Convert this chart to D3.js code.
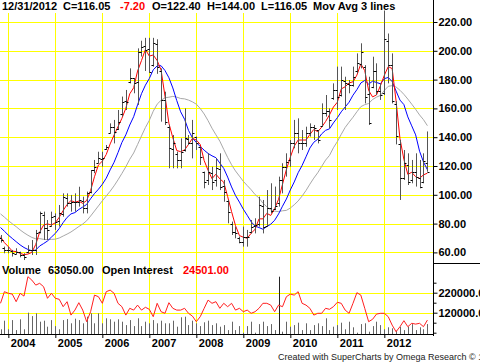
<!DOCTYPE html>
<html>
<head>
<meta charset="utf-8">
<script src="https://cdn.jsdelivr.net/npm/d3@7/dist/d3.min.js"></script>
<style>
body{margin:0;background:#fff;}
svg{display:block;font-family:"Liberation Sans",Arial,sans-serif;}
.lbl{font-size:11px;font-weight:bold;fill:#000;}
</style>
</head>
<body>
<svg id="chart" width="480" height="362"></svg>
<script>
// monthly bars, Nov 2003 .. Dec 2012 (index 0 = Nov 2003)
var years=[2004,2005,2006,2007,2008,2009,2010,2011,2012];
var firstJan=2; // index of Jan 2004

var opens=[70,63,62,61,59,60,58,60,62,62,74,86,77,78,85,82,87,98,94,95,95,96,91,102,117,122,125,132,143,147,
146,156,165,178,181,178,199,203,201,190,205,186,166,147,132,128,124,131,139,136,140,133,116,110,115,110,118,106,96,80,
74,70,67,71,74,78,80,92,78,91,90,94,110,119,124,136,143,136,136,143,147,145,148,157,158,167,173,169,179,177,
176,186,191,189,170,175,186,172,171,207,190,163,135,112,121,110,116,112,109,122.4];
var highs=[72.1,64,64,61.7,62.9,60.5,59.4,65,68.6,75.6,88.3,88.3,82.5,88.3,87.1,92.9,101,101,99.9,101,105.6,98.7,102.2,117.2,124.2,129.9,129.9,134.6,149.6,152,
158.9,168.2,172.8,187.8,181,201.7,207,209,209,209,208,187.8,171.6,148.5,141.5,130,139.2,160,141.5,152,140.4,133.4,116.1,128.8,119.5,125.3,128.8,110.3,96.4,81.4,
77.9,71,77.9,75.6,82.5,83.7,98.7,96.4,103.3,108,105.7,112.6,121.9,128.8,138,152,153.1,145,147.3,149.6,148.5,145,163.5,169.3,160,177.4,189,189,182,179.7,
189,198.2,205.2,190,182,195.9,191.3,177.4,228,212,198.2,165,138.1,131.1,128.8,124.2,128.8,124.2,128.8,144];
var lows=[66.8,59.4,59.4,57.1,58.6,56.6,54.7,59.4,58.2,58.2,73.2,68.6,68.6,77.9,75.6,77.9,84.8,91.8,88.3,88.3,91.8,87.1,87.1,101,115,121.9,119.5,131.1,142.7,135.7,
145,154.3,158.9,177.4,170.5,162.4,196,186,185,189,184,150.8,148.5,118.4,118.4,118.4,118.4,130,134.6,125.3,131.1,120.7,104.5,106.8,103.3,105.7,103.3,95.2,80.2,72.1,
69.8,66.3,64,64,73.2,73.2,77.9,73.2,77.9,87.1,89.4,91.8,101,112.6,119.5,132.3,128.8,131.1,133.4,140.4,138.1,135.7,147.3,154.3,146.2,165.9,158.9,168.2,158.9,170.5,
175.1,184.4,187.8,163.5,148.5,174,169.3,165.9,169.3,177.4,163.5,135,96.4,110.3,106.8,108,105.7,104.5,108,116.05];
var closes=[68.6,61.7,61.7,59.4,60.5,58.2,56.6,61.7,61.7,73.2,87.1,76.7,75.6,84.8,81.4,87.1,98.7,94.1,95.2,95.2,96.4,90.6,101,117.2,119.5,125.3,125.3,133.4,147.3,143.8,
150.8,164.7,164.7,180.9,177.4,199.4,202.9,200.6,185.5,205.2,189,165.8,150.8,132.3,135.7,124.2,130,139.2,135.7,142.7,135.7,126.5,109.1,115.5,109.1,118.4,105.7,102.2,88.3,74.4,
73.2,67.5,71,71,77.9,79.1,92.9,77.9,90.6,88.5,92,110.3,119.5,123,135.7,142.7,135.7,135.7,142.7,147.3,146.2,138,156.6,158,152,172.8,168,179.7,177.4,176,
182,191.3,199.4,168,150,186,172,169,208,190,165,140.5,111.4,121.9,109.1,116,112.6,105.7,123.25,116.05];
// closes before Nov 2003, only feed the moving averages at the left edge
var priorCloses=[103,105,98,97,99,92,93,89,90,85,86,80,81,78,73,74,70];

var volumes=[37,80,37,83,33,87,37,120,103,117,75,80,50,83,53,37,83,88,67,90,83,67,100,117,67,117,67,92,87,75,
87,75,58,83,53,92,53,75,67,83,67,80,67,67,80,50,97,100,58,80,67,53,72,80,58,67,50,58,33,75,
33,53,20,53,75,20,63,75,53,63,33,300,25,75,50,58,70,33,67,33,58,67,53,92,33,50,58,70,37,75,
47,20,63,67,25,53,75,58,37,47,42,30,50,33,50,63,33,47,37,63.05]; // thousands
var openInt=[167,225,217,213,175,217,203,300,283,258,267,250,192,217,192,187,150,175,108,133,170,133,75,125,208,200,167,225,233,217,
167,150,108,142,133,158,133,147,137,100,167,125,117,170,142,133,133,142,117,103,75,100,142,183,167,175,142,167,150,167,
133,142,125,133,117,125,142,167,167,158,125,158,150,200,213,208,225,167,158,142,108,117,117,142,137,150,172,167,133,117,
167,220,208,142,75,87,113,117,117,100,58,25,50,80,50,67,63,67,50,83]; // thousands

var priceTicks=[60,80,100,120,140,160,180,200,220];
var volTicks=[120000,220000];
var maSpecs=[{n:18,color:"#a8a8a8"},{n:9,color:"#0000ff"},{n:3,color:"#ff0000"}];

var svg=d3.select("#chart");
var axisX=433;

var x=d3.scaleLinear().domain([0,closes.length-1]).range([0.5,427.4]);
var y=d3.scaleLinear().domain([60,220]).range([252.4,22]);
var yv=d3.scaleLinear().domain([0,220000]).range([336.7,292.7]);
var volBase=334;

var grid=svg.append("g").attr("stroke","#ffff00").attr("stroke-width",1);
grid.selectAll("line.h").data(priceTicks).enter().append("line")
    .attr("x1",0).attr("x2",axisX)
    .attr("y1",function(d){return Math.round(y(d))+0.5}).attr("y2",function(d){return Math.round(y(d))+0.5});
grid.selectAll("line.v").data(volTicks).enter().append("line")
    .attr("x1",0).attr("x2",axisX)
    .attr("y1",function(d){return Math.round(yv(d))+0.5}).attr("y2",function(d){return Math.round(yv(d))+0.5});
grid.selectAll("line.yr").data(years).enter().append("line")
    .attr("x1",function(d,i){return Math.round(x(firstJan+12*i))+0.5})
    .attr("x2",function(d,i){return Math.round(x(firstJan+12*i))+0.5})
    .attr("y1",13).attr("y2",volBase);

// moving averages
var all=priorCloses.concat(closes);
maSpecs.forEach(function(s){
    var pts=closes.map(function(c,i){
        var j=i+priorCloses.length;
        return d3.mean(all.slice(j-s.n+1,j+1));
    });
    svg.append("path").datum(pts)
        .attr("fill","none").attr("stroke",s.color).attr("stroke-width",1)
        .attr("d",d3.line().x(function(d,i){return x(i)}).y(function(d){return y(d)}));
});

// OHLC bars
var bars=svg.append("g");
closes.forEach(function(c,i){
    var bx=Math.round(x(i))+0.5;
    bars.append("line").attr("x1",bx).attr("x2",bx)
        .attr("y1",y(highs[i])).attr("y2",y(lows[i]))
        .attr("stroke","#555").attr("stroke-width",1);
    bars.append("line").attr("x1",bx-2).attr("x2",bx)
        .attr("y1",Math.round(y(opens[i]))+0.5).attr("y2",Math.round(y(opens[i]))+0.5)
        .attr("stroke","#000");
    bars.append("line").attr("x1",bx).attr("x2",bx+2)
        .attr("y1",Math.round(y(c))+0.5).attr("y2",Math.round(y(c))+0.5)
        .attr("stroke","#000");
});

// volume bars + open interest
svg.append("g").selectAll("line").data(volumes).enter().append("line")
    .attr("x1",function(d,i){return Math.round(x(i))+0.5})
    .attr("x2",function(d,i){return Math.round(x(i))+0.5})
    .attr("y1",function(d){return Math.min(volBase,yv(d*1000))}).attr("y2",volBase)
    .attr("stroke",function(d,i){return i==71?"#222":"#666"}).attr("stroke-width",1);
svg.append("path").datum(openInt)
    .attr("fill","none").attr("stroke","#ff2020").attr("stroke-width",1)
    .attr("d",d3.line().x(function(d,i){return x(i)}).y(function(d){return yv(d*1000)}));

// right axis
svg.append("line").attr("x1",axisX+0.5).attr("x2",axisX+0.5).attr("y1",0).attr("y2",volBase+2).attr("stroke","#000");
svg.append("line").attr("x1",axisX).attr("x2",480).attr("y1",263.5).attr("y2",263.5).attr("stroke","#000");
var pa=svg.append("g").attr("transform","translate("+(axisX+0.5)+",0)")
    .call(d3.axisRight(y).tickValues(priceTicks).tickSize(4).tickPadding(1).tickFormat(d3.format(".2f")));
var va=svg.append("g").attr("transform","translate("+(axisX+0.5)+",0)")
    .call(d3.axisRight(yv).tickValues(volTicks).tickSize(4).tickPadding(1).tickFormat(d3.format(".2f")));
var vm=svg.append("g").attr("transform","translate("+(axisX+0.5)+",0)")
    .call(d3.axisRight(yv).tickValues([20000,70000,170000,270000]).tickSize(3).tickFormat(""));
[pa,va,vm].forEach(function(g){
    g.select(".domain").remove();
    g.selectAll("text").attr("class","lbl").attr("font-family",null).attr("font-size",null);
});

// x axis
svg.append("line").attr("x1",0).attr("x2",axisX).attr("y1",volBase+0.5).attr("y2",volBase+0.5).attr("stroke","#000");
var xa=svg.append("g").attr("transform","translate(0,"+volBase+")")
    .call(d3.axisBottom(x).tickValues(years.map(function(d,i){return firstJan+12*i}))
        .tickSize(4).tickFormat(function(d,i){return years[i]}));
xa.select(".domain").remove();
xa.selectAll("text").attr("class","lbl").attr("font-family",null).attr("font-size",null)
    .attr("text-anchor","start").attr("dx",2).attr("y",5);

// headers
function header(yb,parts){
    var t=svg.append("text").attr("class","lbl").attr("y",yb);
    parts.forEach(function(p){
        t.append("tspan").attr("x",p[0]).attr("fill",p[2]||"#000").text(p[1]);
    });
}
header(10,[[2,"12/31/2012"],[63,"C=116.05"],[120,"-7.20","#ff0000"],[152,"O=122.40"],[207,"H=144.00"],[261,"L=116.05"],[313,"Mov Avg 3 lines"]]);
header(274,[[2,"Volume"],[48,"63050.00"],[102,"Open Interest"],[183,"24501.00","#ff0000"]]);
svg.append("text").attr("x",278).attr("y",360).attr("font-size","9px").attr("fill","#222")
    .text("Created with SuperCharts by Omega Research \u00a9 1997");
</script>
</body>
</html>
